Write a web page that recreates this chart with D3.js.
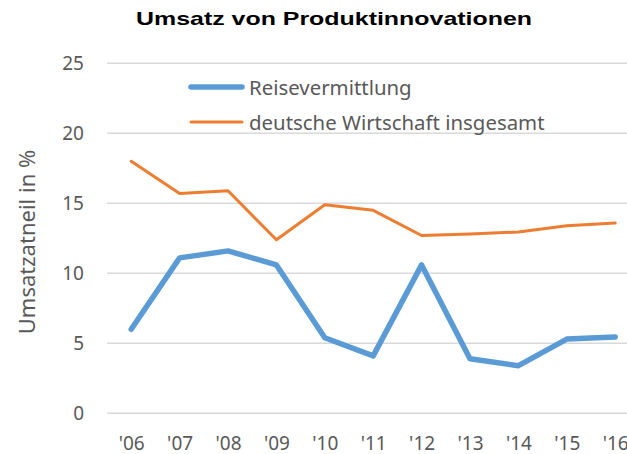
<!DOCTYPE html>
<html>
<head>
<meta charset="utf-8">
<script src="https://cdn.jsdelivr.net/npm/d3@7"></script>
<style>
  body { margin: 0; background: #fff; }
  svg { display: block; }
</style>
</head>
<body>
<svg id="chart"></svg>
<script>
// data
const years = ["'06", "'07", "'08", "'09", "'10", "'11", "'12", "'13", "'14", "'15", "'16"];
const reise = [6.0, 11.1, 11.6, 10.6, 5.4, 4.1, 10.6, 3.9, 3.4, 5.3, 5.45];
const wirtschaft = [18.0, 15.7, 15.9, 12.4, 14.9, 14.5, 12.7, 12.8, 12.95, 13.4, 13.6];
const yTicks = [0, 5, 10, 15, 20, 25];
const seriesNames = ["Reisevermittlung", "deutsche Wirtschaft insgesamt"];

const width = 627, height = 454;
const svg = d3.select("#chart").attr("width", width).attr("height", height);

const x = d3.scalePoint().domain(years).range([107, 639.4]).padding(0.5);
const y = d3.scaleLinear().domain([0, 25]).range([413.3, 63.3]);

const grey = "#595959";
const font = "'Noto Sans', 'Open Sans', sans-serif";

// grid lines
svg.append("g").selectAll("line").data(yTicks).join("line")
  .attr("x1", 107).attr("x2", 640)
  .attr("y1", d => y(d)).attr("y2", d => y(d))
  .attr("stroke", "#d9d9d9").attr("stroke-width", 1.6);

// y axis labels
const yAxis = svg.append("g").attr("transform", "translate(84,0)")
  .call(d3.axisLeft(y).tickValues(yTicks).tickSize(0).tickPadding(0));
yAxis.select(".domain").remove();
yAxis.selectAll("text")
  .attr("font-family", font).attr("font-size", 19).attr("fill", grey);

// x axis labels (the last one runs off the edge, as in the original)
const xAxis = svg.append("g").attr("transform", "translate(0,436)")
  .call(d3.axisBottom(x).tickSize(0).tickPadding(0));
xAxis.select(".domain").remove();
xAxis.selectAll("text")
  .attr("font-family", font).attr("font-size", 19).attr("fill", grey);

// lines
const line = d3.line().x((d, i) => x(years[i])).y(d => y(d));

svg.append("path").datum(wirtschaft)
  .attr("d", line).attr("fill", "none")
  .attr("stroke", "#ed7d31").attr("stroke-width", 3)
  .attr("stroke-linejoin", "round").attr("stroke-linecap", "round");

svg.append("path").datum(reise)
  .attr("d", line).attr("fill", "none")
  .attr("stroke", "#5b9bd5").attr("stroke-width", 5.5)
  .attr("stroke-linejoin", "round").attr("stroke-linecap", "round");

// legend
const legend = svg.append("g");
const legColors = ["#5b9bd5", "#ed7d31"];
const legWidths = [5.5, 3];
seriesNames.forEach((name, i) => {
  const ly = 87 + i * 35;
  legend.append("line")
    .attr("x1", 191).attr("x2", 242).attr("y1", ly).attr("y2", ly)
    .attr("stroke", legColors[i]).attr("stroke-width", legWidths[i])
    .attr("stroke-linecap", "round");
  legend.append("text")
    .attr("x", 249).attr("y", ly + 8)
    .attr("font-family", font).attr("font-size", 20.4).attr("fill", grey)
    .text(name);
});

// title
svg.append("text")
  .attr("x", 136).attr("y", 25)
  .attr("font-family", "'Liberation Sans', Arial, sans-serif")
  .attr("font-weight", "bold").attr("font-size", 18.5)
  .attr("textLength", 396).attr("lengthAdjust", "spacingAndGlyphs")
  .attr("fill", "#000")
  .text("Umsatz von Produktinnovationen");

// y axis title
svg.append("text")
  .attr("transform", "translate(35,242) rotate(-90)")
  .attr("text-anchor", "middle")
  .attr("font-family", font).attr("font-size", 22).attr("fill", grey)
  .text("Umsatzatneil in %");
</script>
</body>
</html>
